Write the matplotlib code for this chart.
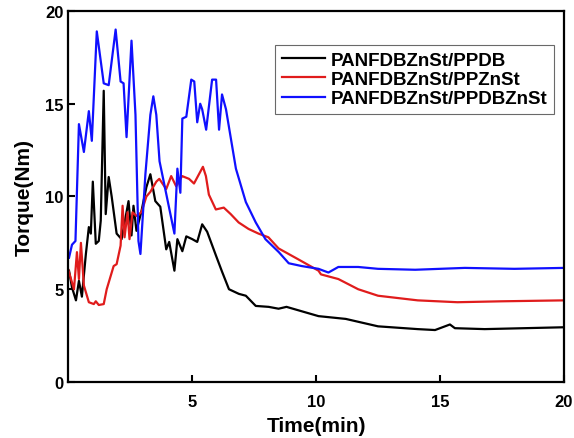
import matplotlib.pyplot as plt
import numpy as np

plt.rcParams['font.family'] = ['Liberation Sans', 'DejaVu Sans']
plt.rcParams['font.weight'] = 'bold'

labels = ["PANFDBZnSt/PPDB", "PANFDBZnSt/PPZnSt", "PANFDBZnSt/PPDBZnSt"]
colors = ["#000000", "#e01c1c", "#1010ff"]

# torque traces (time in min, torque in Nm)
t_black = [0.04, 0.16, 0.32, 0.44, 0.56, 0.72, 0.84, 0.92, 1.0, 1.12, 1.24, 1.32, 1.44, 1.52,
           1.64, 1.76, 1.96, 2.16, 2.44, 2.56, 2.64, 2.76, 2.96, 3.16, 3.32, 3.52, 3.72, 3.96,
           4.08, 4.29, 4.41, 4.61, 4.77, 5.01, 5.21, 5.41, 5.61, 5.97, 6.21, 6.49, 6.89, 7.17,
           7.57, 8.09, 8.49, 8.81, 10.1, 11.2, 12.5, 14.1, 14.8, 15.4, 15.6, 16.8, 20.0]
v_black = [6.0, 5.1, 4.4, 5.45, 4.6, 6.9, 8.35, 8.0, 10.8, 7.45, 7.6, 8.7, 15.7, 9.05,
           11.05, 10.0, 8.0, 7.7, 9.75, 7.9, 9.5, 8.15, 9.2, 10.5, 11.2, 9.75, 9.45,
           7.15, 7.55, 6.0, 7.7, 7.05, 7.85, 7.7, 7.55, 8.5, 8.1, 6.8, 5.95, 5.0, 4.75, 4.65,
           4.1, 4.05, 3.95, 4.05, 3.55, 3.4, 3.0, 2.85, 2.8, 3.1, 2.9, 2.85, 2.95]

t_red = [0.0, 0.12, 0.24, 0.36, 0.44, 0.52, 0.64, 0.84, 1.04, 1.12, 1.24, 1.44, 1.56, 1.84,
         1.96, 2.12, 2.2, 2.28, 2.4, 2.48, 2.6, 2.76, 2.96, 3.16, 3.32, 3.56, 3.68, 3.96,
         4.16, 4.36, 4.6, 4.88, 5.08, 5.28, 5.44, 5.56, 5.68, 5.96, 6.28, 6.56, 6.88, 7.28,
         7.68, 8.08, 8.49, 9.3, 10.1, 10.2, 10.9, 11.7, 12.5, 14.1, 15.7, 17.5, 20.0]
v_red = [6.1, 5.55, 5.0, 7.0, 5.55, 7.5, 5.2, 4.3, 4.2, 4.35, 4.15, 4.2, 5.0, 6.25,
         6.35, 7.35, 9.5, 7.8, 9.15, 7.7, 9.15, 8.95, 9.15, 10.0, 10.25, 10.8, 10.95, 10.4,
         11.1, 10.55, 11.1, 10.95, 10.7, 11.2, 11.6, 11.1, 10.1, 9.3, 9.4, 9.05, 8.6, 8.25,
         8.0, 7.8, 7.2, 6.6, 6.0, 5.8, 5.55, 5.0, 4.65, 4.4, 4.3, 4.35, 4.4]

t_blue = [0.04, 0.16, 0.3, 0.44, 0.64, 0.84, 0.96, 1.16, 1.44, 1.64, 1.92, 2.12, 2.24,
          2.36, 2.56, 2.72, 2.84, 2.92, 3.12, 3.32, 3.44, 3.56, 3.69, 4.29, 4.41, 4.53,
          4.61, 4.77, 4.97, 5.09, 5.21, 5.33, 5.41, 5.57, 5.81, 5.97, 6.09, 6.21, 6.37,
          6.77, 7.17, 7.57, 7.96, 8.5, 8.9, 9.42, 10.1, 10.5, 10.9, 11.7, 12.5, 14.0, 16.0,
          18.0, 20.0]
v_blue = [6.7, 7.4, 7.6, 13.9, 12.4, 14.6, 13.0, 18.9, 16.1, 16.0, 19.0, 16.2, 16.1,
          13.2, 18.4, 14.4, 7.6, 6.9, 11.2, 14.4, 15.4, 14.4, 11.9, 8.0, 11.5, 10.2,
          14.2, 14.3, 16.3, 16.2, 14.0, 15.0, 14.7, 13.6, 16.3, 16.3, 13.6, 15.5, 14.7,
          11.5, 9.7, 8.6, 7.7, 7.0, 6.4, 6.25, 6.1, 5.9, 6.2, 6.2, 6.1, 6.05, 6.15,
          6.1, 6.15]

fig = plt.figure(figsize=(5.74, 4.39), dpi=100)
ax = fig.add_axes([0.1185, 0.1276, 0.8641, 0.8451])

for t, v, lab, c in zip([t_black, t_red, t_blue], [v_black, v_red, v_blue], labels, colors):
    ax.plot(t, v, color=c, lw=1.6, label=lab)

ax.set_xlim(0, 20)
ax.set_ylim(0, 20)
ax.set_xticks([5, 10, 15, 20])
ax.set_yticks([0, 5, 10, 15, 20])
ax.tick_params(direction='in', length=5, width=1.5, labelsize=12)
ax.tick_params(axis='x', pad=9)
ax.tick_params(axis='y', pad=3)
for s in ax.spines.values():
    s.set_linewidth(1.6)

ax.set_xlabel("Time(min)", fontsize=15, fontweight='bold', labelpad=5)
ax.set_ylabel("Torque(Nm)", fontsize=15, fontweight='bold', labelpad=8)

leg = ax.legend(loc='upper right', bbox_to_anchor=(0.998, 0.934), fontsize=13.5,
                frameon=True, fancybox=False, edgecolor='#444444', handlelength=2.3,
                handletextpad=0.3, borderpad=0.35, labelspacing=0.12)
leg.get_frame().set_linewidth(0.8)

fig.savefig("out.png", dpi=100)
